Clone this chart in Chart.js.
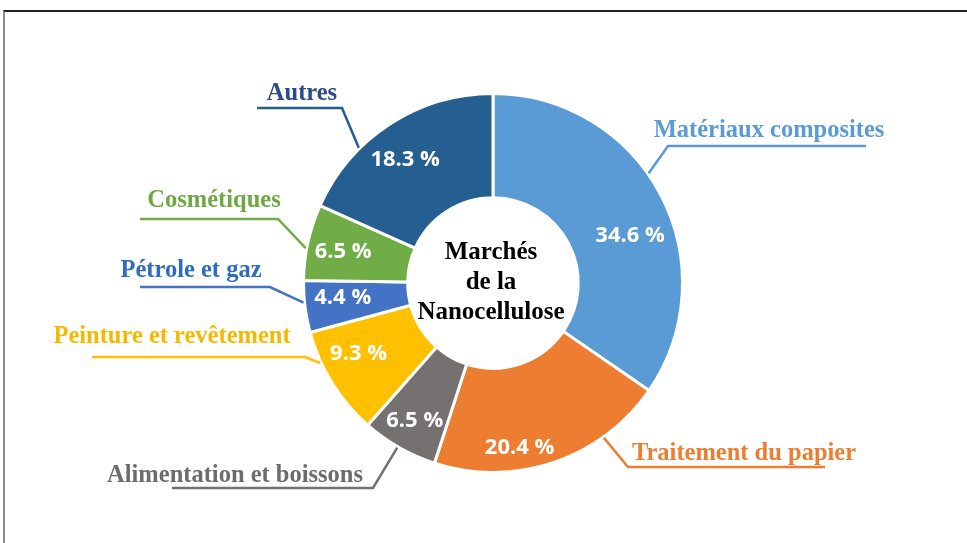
<!DOCTYPE html>
<html>
<head>
<meta charset="utf-8">
<script src="https://cdn.jsdelivr.net/npm/chart.js@4.4.0/dist/chart.umd.min.js"></script>
<style>
  body { margin: 0; background: #fff; }
  #wrap { position: relative; width: 967px; height: 543px; overflow: hidden; }
  #frame { position: absolute; left: 3px; top: 10px; width: 1000px; height: 600px;
           border-top: 2px solid #222; border-left: 2px solid #8a8a8a; }
  canvas { position: absolute; left: 0; top: 0; }
</style>
</head>
<body>
<div id="wrap">
  <div id="frame"></div>
  <canvas id="marketChart" width="967" height="543"></canvas>
</div>
<script>
// Market shares of nanocellulose (%)
const categories = ['Matériaux composites', 'Traitement du papier', 'Alimentation et boissons',
  'Peinture et revêtement', 'Pétrole et gaz', 'Cosmétiques', 'Autres'];
const shares = [34.6, 20.4, 6.5, 9.3, 4.4, 6.5, 18.3];
const centerTitle = ['Marchés', 'de la', 'Nanocellulose'];

const sliceColors = ['#5B9BD5', '#ED7D31', '#767171', '#FFC000', '#4472C4', '#70AD47', '#255E91'];
const textColors = ['#5B9BD5', '#ED7D31', '#6E6B6B', '#F7B900', '#2E6CC0', '#6EA845', '#2B4A8A'];

// label layout, relative to the doughnut centre
// at: where the leader leaves the slice (fraction of the slice), elbow, end: horizontal end x,
// tx/ty: text centre x / baseline, pf/pr: percent label position in the slice
const labelLayout = [
  { at: 0.44, elbow: [175, -137], end: 373, tx: 276, ty: -146, pf: 0.57, pr: 145 },
  { at: 0.27, elbow: [135, 184], end: 332, tx: 251, ty: 177, pf: 0.63, pr: 167 },
  { at: 0.52, elbow: [-120, 205], end: -321, tx: -258, ty: 199, pf: 0.5, pr: 158 },
  { at: 0.71, elbow: [-188, 74], end: -401, tx: -321, ty: 60, pf: 0.62, pr: 152 },
  { at: 0.58, elbow: [-223, 4], end: -353, tx: -302, ty: -6, pf: 0.6, pr: 151 },
  { at: 0.42, elbow: [-215, -64], end: -353, tx: -279, ty: -76, pf: 0.47, pr: 153 },
  { at: 0.32, elbow: [-151, -175], end: -236, tx: -191, ty: -183, pf: 0.46, pr: 151 }
];

const serif = '"Liberation Serif", "Times New Roman", serif';

const labelPlugin = {
  id: 'sliceLabels',
  afterDatasetsDraw(chart) {
    const ctx = chart.ctx;
    const arcs = chart.getDatasetMeta(0).data;
    ctx.save();
    arcs.forEach((arc, i) => {
      const p = arc.getProps(['x', 'y', 'startAngle', 'endAngle', 'innerRadius', 'outerRadius'], true);
      const lay = labelLayout[i];
      const cx = p.x, cy = p.y;

      // leader line
      const a = p.startAngle + (p.endAngle - p.startAngle) * lay.at;
      const sx = cx + Math.cos(a) * (p.outerRadius + 1);
      const sy = cy + Math.sin(a) * (p.outerRadius + 1);
      ctx.strokeStyle = sliceColors[i];
      ctx.lineWidth = 2.5;
      ctx.beginPath();
      ctx.moveTo(sx, sy);
      ctx.lineTo(cx + lay.elbow[0], cy + lay.elbow[1]);
      ctx.lineTo(cx + lay.end, cy + lay.elbow[1]);
      ctx.stroke();

      // category name
      ctx.fillStyle = textColors[i];
      ctx.font = 'bold 24.5px ' + serif;
      ctx.textAlign = 'center';
      ctx.textBaseline = 'alphabetic';
      ctx.fillText(categories[i], cx + lay.tx, cy + lay.ty);

      // percentage inside slice
      const pa = p.startAngle + (p.endAngle - p.startAngle) * lay.pf;
      ctx.fillStyle = '#fff';
      ctx.font = 'bold 22px "Open Sans", sans-serif';
      ctx.textBaseline = 'middle';
      ctx.fillText(shares[i].toFixed(1) + ' %', cx + Math.cos(pa) * lay.pr, cy + Math.sin(pa) * lay.pr);
    });

    // centre title
    const c = arcs[0];
    ctx.fillStyle = '#000';
    ctx.font = 'bold 25px ' + serif;
    ctx.textBaseline = 'middle';
    centerTitle.forEach((line, k) => {
      ctx.fillText(line, c.x - 2, c.y + (k - 1) * 30);
    });
    ctx.restore();
  }
};

const chartCtx = document.getElementById('marketChart').getContext('2d');
new Chart(chartCtx, {
  type: 'doughnut',
  data: {
    labels: categories,
    datasets: [{
      data: shares,
      backgroundColor: sliceColors,
      borderColor: '#fff',
      borderWidth: 3
    }]
  },
  options: {
    responsive: false,
    animation: false,
    cutout: '45%',
    layout: { padding: { left: 302, right: 283, top: 92, bottom: 69 } },
    plugins: {
      legend: { display: false },
      tooltip: { enabled: false }
    }
  },
  plugins: [labelPlugin]
});
</script>
</body>
</html>
